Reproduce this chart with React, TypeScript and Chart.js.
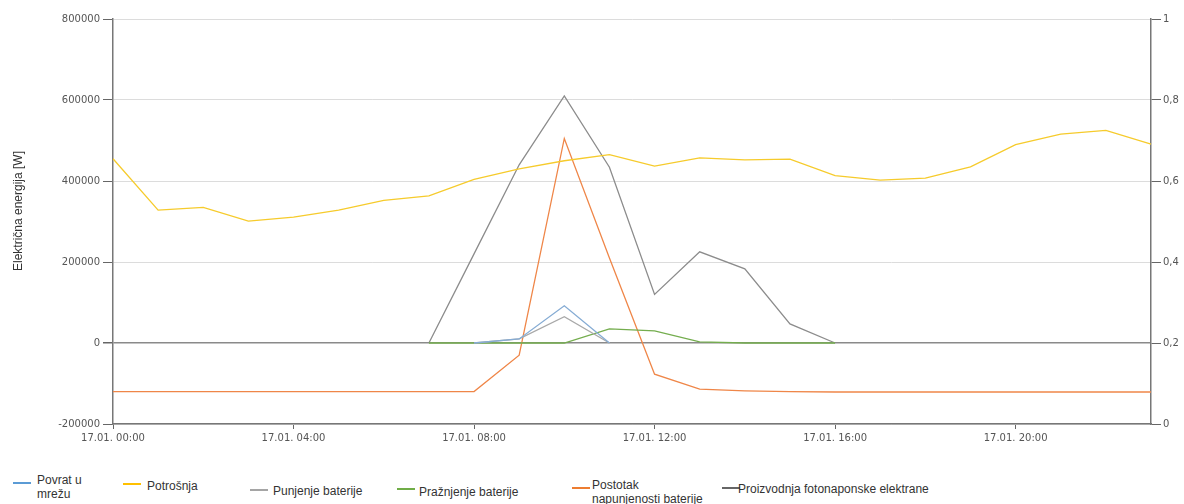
import React, { useEffect, useLayoutEffect, useRef } from "react";
import { Chart, registerables } from "chart.js";

Chart.register(...registerables);

const hourLabels: string[] = [
  "17.01. 00:00", "17.01. 01:00", "17.01. 02:00", "17.01. 03:00", "17.01. 04:00", "17.01. 05:00",
  "17.01. 06:00", "17.01. 07:00", "17.01. 08:00", "17.01. 09:00", "17.01. 10:00", "17.01. 11:00",
  "17.01. 12:00", "17.01. 13:00", "17.01. 14:00", "17.01. 15:00", "17.01. 16:00", "17.01. 17:00",
  "17.01. 18:00", "17.01. 19:00", "17.01. 20:00", "17.01. 21:00", "17.01. 22:00", "17.01. 23:00",
];

const povratUMrezu: (number | null)[] = [
  null, null, null, null, null, null, null, null, 0, 10000, 92000, 0,
  null, null, null, null, null, null, null, null, null, null, null, null,
];

const potrosnja: number[] = [
  455000, 328000, 335000, 301000, 311000, 328000, 352000, 363000, 404000, 430000, 450000, 465000,
  437000, 457000, 452000, 454000, 413000, 402000, 407000, 435000, 490000, 516000, 525000, 491000,
];

const punjenjeBaterije: (number | null)[] = [
  null, null, null, null, null, null, null, null, 0, 10000, 65000, 0,
  null, null, null, null, null, null, null, null, null, null, null, null,
];

const praznjenjeBaterije: (number | null)[] = [
  null, null, null, null, null, null, null, 0, 0, 0, 0, 35000,
  30000, 3000, 0, 0, 0, null, null, null, null, null, null, null,
];

const postotakNapunjenosti: number[] = [
  0.08, 0.08, 0.08, 0.08, 0.08, 0.08, 0.08, 0.08, 0.08, 0.17, 0.705, 0.41,
  0.123, 0.086, 0.082, 0.08, 0.079, 0.079, 0.079, 0.079, 0.079, 0.079, 0.079, 0.079,
];

const proizvodnjaFN: (number | null)[] = [
  null, null, null, null, null, null, null, 0, 220000, 440000, 610000, 434000,
  120000, 225000, 183000, 47000, 0, null, null, null, null, null, null, null,
];

const seriesNames: string[] = [
  "Povrat u mrežu",
  "Potrošnja",
  "Punjenje baterije",
  "Pražnjenje baterije",
  "Postotak napunjenosti baterije",
  "Proizvodnja fotonaponske elektrane",
];

const seriesColors: string[] = ["#86acd4", "#f6cb2c", "#a9a9a9", "#74ad4e", "#ef8648", "#8c8c8c"];
const legendColors: string[] = ["#5b9bd5", "#ffc000", "#a5a5a5", "#70ad47", "#ed7d31", "#666666"];

const yAxisTitle = "Električna energija [W]";

// legend layout (page coordinates; body margin removed)
const legendLayout = [
  { swatchLeft: 13, swatchTop: 482, textLeft: 37, textTop: 473, width: 58 },
  { swatchLeft: 123, swatchTop: 483, textLeft: 147, textTop: 479, width: 100 },
  { swatchLeft: 250, swatchTop: 489, textLeft: 273, textTop: 484, width: 140 },
  { swatchLeft: 397, swatchTop: 488, textLeft: 419, textTop: 485, width: 140 },
  { swatchLeft: 572, swatchTop: 487, textLeft: 592, textTop: 478, width: 113 },
  { swatchLeft: 722, swatchTop: 487, textLeft: 738, textTop: 482, width: 260 },
];

export default function App() {
  const canvasRef = useRef<HTMLCanvasElement | null>(null);

  useLayoutEffect(() => {
    document.body.style.margin = "0";
  }, []);

  useEffect(() => {
    if (!canvasRef.current) return;
    const values = [povratUMrezu, potrosnja, punjenjeBaterije, praznjenjeBaterije, postotakNapunjenosti, proizvodnjaFN];
    const chart = new Chart(canvasRef.current, {
      type: "line",
      data: {
        labels: hourLabels,
        datasets: values.map((d, i) => ({
          label: seriesNames[i],
          data: d,
          borderColor: seriesColors[i],
          backgroundColor: seriesColors[i],
          borderWidth: 1.3,
          pointRadius: 0,
          tension: 0,
          spanGaps: false,
          yAxisID: i === 4 ? "y1" : "y",
        })),
      },
      options: {
        animation: false,
        responsive: true,
        maintainAspectRatio: false,
        layout: { padding: { top: 19, left: 0, right: 0, bottom: 0 } },
        plugins: {
          legend: { display: false },
          tooltip: { enabled: false },
        },
        scales: {
          x: {
            type: "category",
            offset: false,
            grid: {
              display: true,
              drawOnChartArea: false,
              drawTicks: true,
              tickLength: 5,
              tickColor: "#666",
            },
            border: { display: true, color: "#777", width: 1.5 },
            ticks: {
              autoSkip: false,
              maxRotation: 0,
              minRotation: 0,
              padding: 3,
              color: "#555",
              font: { family: "'DejaVu Sans'", size: 10 },
              callback: (_v: any, index: number) => (index % 4 === 0 ? hourLabels[index] : null),
            },
            afterFit: (scale: any) => {
              scale.height = 24;
            },
          },
          y: {
            position: "left",
            min: -200000,
            max: 800000,
            grid: {
              color: (ctx: any) => (ctx.tick && ctx.tick.value === 0 ? "#8a8a8a" : "#dcdcdc"),
              lineWidth: (ctx: any) => (ctx.tick && ctx.tick.value === 0 ? 1.5 : 1),
              tickLength: 10,
              tickColor: "#666",
            },
            border: { display: true, color: "#777", width: 1.5 },
            ticks: {
              stepSize: 200000,
              padding: 3,
              color: "#555",
              font: { family: "'DejaVu Sans'", size: 10 },
              callback: (v: any) => String(v),
            },
            afterFit: (scale: any) => {
              scale.width = 113;
            },
          },
          y1: {
            position: "right",
            min: 0,
            max: 1,
            grid: {
              drawOnChartArea: false,
              tickLength: 10,
              tickColor: "#666",
            },
            border: { display: true, color: "#777", width: 1.5 },
            ticks: {
              stepSize: 0.2,
              padding: 2,
              color: "#555",
              font: { family: "'DejaVu Sans'", size: 10 },
              callback: (v: any) => String(Math.round(Number(v) * 10) / 10).replace(".", ","),
            },
            afterFit: (scale: any) => {
              scale.width = 33;
            },
          },
        },
      },
    });
    return () => chart.destroy();
  }, []);

  return (
    <div style={{ position: "relative", width: 1184, height: 504, overflow: "hidden", background: "#fff" }}>
      <div style={{ position: "absolute", left: 0, top: 0, width: 1184, height: 448 }}>
        <canvas ref={canvasRef} />
      </div>
      <div
        style={{
          position: "absolute",
          left: 18,
          top: 211,
          transform: "translate(-50%, -50%) rotate(-90deg)",
          whiteSpace: "nowrap",
          fontFamily: "'Liberation Sans', Arial, sans-serif",
          fontSize: 12,
          color: "#333",
        }}
      >
        {yAxisTitle}
      </div>
      {seriesNames.map((name, i) => {
        const l = legendLayout[i];
        return (
          <React.Fragment key={name}>
            <div
              style={{
                position: "absolute",
                left: l.swatchLeft,
                top: l.swatchTop,
                width: 18,
                height: 2,
                background: legendColors[i],
              }}
            />
            <div
              style={{
                position: "absolute",
                left: l.textLeft,
                top: l.textTop,
                width: l.width,
                fontFamily: "'Liberation Sans', Arial, sans-serif",
                fontSize: 12,
                lineHeight: "14px",
                color: "#333",
              }}
            >
              {name}
            </div>
          </React.Fragment>
        );
      })}
    </div>
  );
}
